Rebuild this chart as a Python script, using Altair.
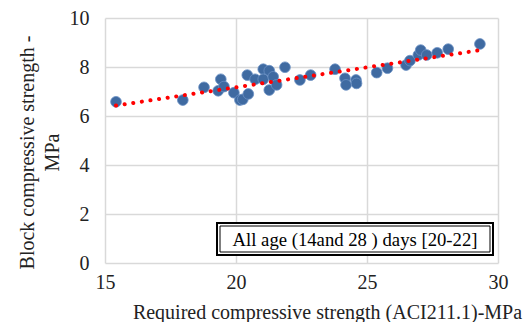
import altair as alt
import pandas as pd

required = [15.42, 17.97, 18.78, 19.42, 19.32, 19.54, 19.92, 20.15, 20.26, 20.47,
            20.43, 20.73, 21.04, 21.27, 21.04, 21.42, 21.27, 21.55, 21.87, 22.44,
            22.85, 23.78, 24.16, 24.20, 24.58, 24.60, 25.37, 25.78, 26.49, 26.64,
            26.96, 27.05, 27.28, 27.68, 28.10, 29.31]
block = [6.58, 6.65, 7.17, 7.50, 7.03, 7.20, 6.95, 6.65, 6.68, 6.90,
         7.67, 7.50, 7.91, 7.85, 7.50, 7.60, 7.06, 7.27, 7.99, 7.47,
         7.67, 7.91, 7.54, 7.27, 7.47, 7.33, 7.77, 7.95, 8.08, 8.26,
         8.49, 8.69, 8.49, 8.58, 8.73, 8.94]
x_ticks = [15, 20, 25, 30]
y_ticks = [0, 2, 4, 6, 8, 10]
note = ["All age (14and 28 ) days [20-22]"]

df = pd.DataFrame({"req": required, "blk": block})
FONT = "Liberation Serif"
common = dict(labelFont=FONT, titleFont=FONT, labelColor="#222222", titleColor="#222222",
              labelFontSize=20, titleFontSize=20, titleFontWeight="normal",
              grid=True, gridColor="#d9d9d9", gridWidth=1.5, domain=False, ticks=False,
              labelFlush=False)

xs = alt.X("req:Q", scale=alt.Scale(domain=[15, 30], nice=False),
           axis=alt.Axis(values=x_ticks, title="Required compressive strength (ACI211.1)-MPa",
                         titleX=222, titleY=49, titleBaseline="middle",
                         labelPadding=9, **common))
ys = alt.Y("blk:Q", scale=alt.Scale(domain=[0, 10], nice=False),
           axis=alt.Axis(values=y_ticks, title=["Block compressive strength -", "MPa"],
                         titleX=-88, titleY=134, titleBaseline="top", titleLineHeight=25,
                         labelPadding=16, **common))

points = alt.Chart(df).mark_circle(size=115, color="#3f6aa1", opacity=1,
                                   stroke="#6b90c4", strokeWidth=0.8).encode(x=xs, y=ys)

trend = alt.Chart(df).transform_regression("req", "blk").mark_line(
    color="#ff0000", strokeWidth=4, strokeDash=[0.1, 8.6], strokeCap="round"
).encode(x="req:Q", y="blk:Q")

box_df = pd.DataFrame({"t": note})
outer = alt.Chart(box_df).mark_rect(fill="white", stroke="black", strokeWidth=2).encode(
    x=alt.value(112), x2=alt.value(388), y=alt.value(205), y2=alt.value(237))
inner = alt.Chart(box_df).mark_rect(fill="white", stroke="black", strokeWidth=1).encode(
    x=alt.value(115), x2=alt.value(385), y=alt.value(208), y2=alt.value(234))
label = alt.Chart(box_df).mark_text(font=FONT, fontSize=18.7, color="black",
                                    align="center", baseline="middle").encode(
    x=alt.value(250), y=alt.value(222), text="t:N")

chart = alt.layer(points, trend, outer, inner, label).properties(
    width=393, height=245,
    autosize=alt.AutoSizeParams(type="none"),
    padding={"left": 105, "top": 18, "right": 25, "bottom": 59},
    background="white",
).configure(font=FONT).configure_view(stroke=None)

chart.save("out.html", embed_options={"renderer": "svg", "actions": False})
